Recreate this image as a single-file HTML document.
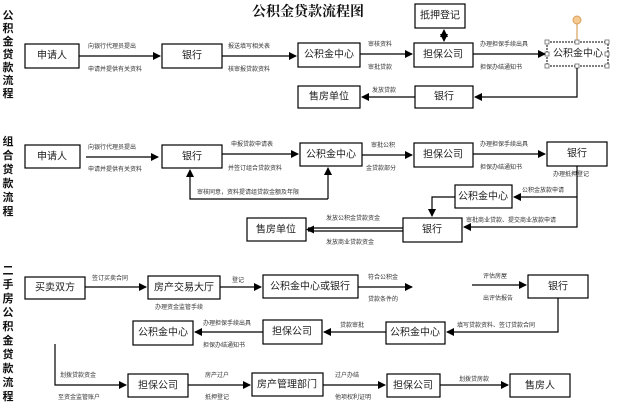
<!DOCTYPE html>
<html><head><meta charset="utf-8"><style>
html,body{margin:0;padding:0;background:#fff;}
svg{display:block;}
text{font-family:"Liberation Sans","Noto Sans CJK SC",sans-serif;fill:#111;}
.b{font-size:10px;text-anchor:middle;dominant-baseline:central;fill:#222;}
.s{font-size:6px;fill:#333;}
.v{font-size:11px;font-weight:bold;text-anchor:middle;}
rect{fill:#fff;stroke:#000;stroke-width:1.2;}
line,polyline{stroke:#000;stroke-width:1.2;fill:none;}
</style></head><body>
<svg width="631" height="409" viewBox="0 0 631 409" xmlns="http://www.w3.org/2000/svg">
<defs>
<marker id="a" markerWidth="8" markerHeight="8" refX="7" refY="4" orient="auto" markerUnits="userSpaceOnUse"><path d="M0,0 L8,4 L0,8 z" fill="#000"/></marker>
<marker id="as" markerWidth="8" markerHeight="8" refX="1" refY="4" orient="auto" markerUnits="userSpaceOnUse"><path d="M8,0 L0,4 L8,8 z" fill="#000"/></marker>
</defs>
<text x="308" y="16" style="font-family:'Liberation Serif','Noto Serif CJK SC',serif;font-size:14px;font-weight:bold;" text-anchor="middle">公积金贷款流程图</text>

<!-- vertical labels -->
<g class="v">
<text x="8" y="19" class="v">公</text><text x="8" y="32" class="v">积</text><text x="8" y="45" class="v">金</text><text x="8" y="58" class="v">贷</text><text x="8" y="71" class="v">款</text><text x="8" y="84" class="v">流</text><text x="8" y="97" class="v">程</text>
<text x="8" y="145" class="v">组</text><text x="8" y="159" class="v">合</text><text x="8" y="173" class="v">贷</text><text x="8" y="187" class="v">款</text><text x="8" y="201" class="v">流</text><text x="8" y="215" class="v">程</text>
<text x="8" y="274" class="v">二</text><text x="8" y="288" class="v">手</text><text x="8" y="302" class="v">房</text><text x="8" y="316" class="v">公</text><text x="8" y="330" class="v">积</text><text x="8" y="344" class="v">金</text><text x="8" y="358" class="v">贷</text><text x="8" y="372" class="v">款</text><text x="8" y="386" class="v">流</text><text x="8" y="400" class="v">程</text>
</g>

<!-- Section 1 -->
<rect x="25" y="44" width="54" height="24"/><text class="b" x="52" y="56">申请人</text>
<rect x="162" y="44" width="60" height="24"/><text class="b" x="192" y="56">银行</text>
<rect x="298" y="43" width="62" height="24"/><text class="b" x="329" y="55">公积金中心</text>
<rect x="414" y="43" width="59" height="24"/><text class="b" x="443" y="55">担保公司</text>
<rect x="415" y="4" width="50" height="24"/><text class="b" x="440" y="16">抵押登记</text>
<rect x="547" y="42" width="61" height="24" style="stroke-dasharray:2,1;stroke-width:1"/><text class="b" x="578" y="54">公积金中心</text>
<g fill="#fff" stroke="#666" stroke-width="0.8">
<rect x="545" y="40" width="4" height="4" style="stroke:#666;stroke-width:.8"/><rect x="575" y="40" width="4" height="4" style="stroke:#666;stroke-width:.8"/><rect x="605" y="40" width="4" height="4" style="stroke:#666;stroke-width:.8"/>
<rect x="545" y="52" width="4" height="4" style="stroke:#666;stroke-width:.8"/><rect x="605" y="52" width="4" height="4" style="stroke:#666;stroke-width:.8"/>
<rect x="545" y="64" width="4" height="4" style="stroke:#666;stroke-width:.8"/><rect x="575" y="64" width="4" height="4" style="stroke:#666;stroke-width:.8"/><rect x="605" y="64" width="4" height="4" style="stroke:#666;stroke-width:.8"/>
</g>
<line x1="577" y1="24" x2="577" y2="40" style="stroke:#d9a060"/>
<circle cx="577" cy="20" r="4" fill="#f5c98f" stroke="#d9a060"/>
<rect x="415" y="86" width="58" height="22"/><text class="b" x="444" y="97">银行</text>
<rect x="298" y="86" width="62" height="22"/><text class="b" x="329" y="97">售房单位</text>

<line x1="79" y1="56" x2="160" y2="56" marker-end="url(#a)"/>
<text class="s" x="88" y="48">向银行代理员提出</text><text class="s" x="88" y="71">申请并提供有关资料</text>
<line x1="222" y1="56" x2="296" y2="56" marker-end="url(#a)"/>
<text class="s" x="228" y="48">报送填写相关表</text><text class="s" x="228" y="71">核审报贷款资料</text>
<line x1="360" y1="54" x2="412" y2="54" marker-end="url(#a)"/>
<text class="s" x="368" y="46">审核资料</text><text class="s" x="368" y="69">审批贷款</text>
<line x1="444" y1="30" x2="444" y2="41" marker-end="url(#a)" marker-start="url(#as)"/>
<line x1="473" y1="54" x2="545" y2="54" marker-end="url(#a)"/>
<text class="s" x="480" y="46">办理担保手续出具</text><text class="s" x="480" y="69">担保办结通知书</text>
<polyline points="577,68 577,97 475,97" marker-end="url(#a)"/>
<line x1="415" y1="97" x2="362" y2="97" marker-end="url(#a)"/>
<text class="s" x="372" y="92">发放贷款</text>

<!-- Section 2 -->
<rect x="25" y="145" width="55" height="23"/><text class="b" x="52" y="157">申请人</text>
<rect x="162" y="145" width="60" height="23"/><text class="b" x="192" y="157">银行</text>
<rect x="300" y="143" width="62" height="23"/><text class="b" x="331" y="155">公积金中心</text>
<rect x="414" y="143" width="59" height="24"/><text class="b" x="443" y="155">担保公司</text>
<rect x="547" y="142" width="60" height="24"/><text class="b" x="577" y="154">银行</text>
<rect x="455" y="185" width="57" height="23"/><text class="b" x="483" y="197">公积金中心</text>
<rect x="403" y="218" width="59" height="24"/><text class="b" x="432" y="230">银行</text>
<rect x="247" y="218" width="59" height="23"/><text class="b" x="276" y="230">售房单位</text>

<line x1="86" y1="157" x2="158" y2="157" marker-end="url(#a)"/>
<text class="s" x="88" y="149">向银行代理员提出</text><text class="s" x="88" y="171">申请并提供有关资料</text>
<line x1="222" y1="154" x2="298" y2="154" marker-end="url(#a)"/>
<text class="s" x="231" y="146">申报贷款申请表</text><text class="s" x="228" y="170">并签订组合贷款资料</text>
<polyline points="328,199 190,199 190,170" marker-end="url(#a)"/>
<line x1="328" y1="199" x2="328" y2="168" marker-end="url(#a)"/>
<text class="s" x="197" y="194">审核同意，资料提请组贷款金额及年限</text>
<line x1="362" y1="155" x2="412" y2="155" marker-end="url(#a)"/>
<text class="s" x="371" y="147">审批公积</text><text class="s" x="366" y="170">金贷款部分</text>
<line x1="473" y1="154" x2="545" y2="154" marker-end="url(#a)"/>
<text class="s" x="480" y="146">办理担保手续出具</text><text class="s" x="480" y="169">担保办结通知书</text>
<text class="s" x="553" y="176">办理抵押登记</text>
<polyline points="577,166 577,227 464,227" marker-end="url(#a)"/>
<line x1="577" y1="197" x2="514" y2="197" marker-end="url(#a)"/>
<text class="s" x="522" y="192">公积金放款申请</text>
<text class="s" x="466" y="222">审批商业贷款、提交商业放款申请</text>
<polyline points="455,197 432,197 432,216" marker-end="url(#a)"/>
<line x1="403" y1="228" x2="308" y2="228"/>
<line x1="403" y1="231" x2="308" y2="231"/>
<path d="M306,229.5 L314,225.5 L314,233.5 z" fill="#000"/>
<text class="s" x="326" y="220">发放公积金贷款资金</text><text class="s" x="326" y="244">发放商业贷款资金</text>

<!-- Section 3 -->
<rect x="25" y="277" width="60" height="22"/><text class="b" x="55" y="288">买卖双方</text>
<rect x="148" y="276" width="72" height="23"/><text class="b" x="184" y="288">房产交易大厅</text>
<rect x="263" y="275" width="95" height="23"/><text class="b" x="310" y="287">公积金中心或银行</text>
<rect x="528" y="275" width="60" height="23"/><text class="b" x="558" y="287">银行</text>
<rect x="386" y="322" width="59" height="22"/><text class="b" x="415" y="333">公积金中心</text>
<rect x="263" y="320" width="59" height="24"/><text class="b" x="292" y="332">担保公司</text>
<rect x="133" y="321" width="60" height="24"/><text class="b" x="163" y="333">公积金中心</text>
<rect x="128" y="374" width="60" height="23"/><text class="b" x="158" y="386">担保公司</text>
<rect x="252" y="373" width="71" height="23"/><text class="b" x="287" y="385">房产管理部门</text>
<rect x="387" y="374" width="53" height="23"/><text class="b" x="413" y="386">担保公司</text>
<rect x="510" y="374" width="60" height="23"/><text class="b" x="540" y="386">售房人</text>

<line x1="85" y1="287" x2="146" y2="287" marker-end="url(#a)"/>
<text class="s" x="92" y="280">签订买卖合同</text>
<text class="s" x="155" y="309">办理资金监管手续</text>
<line x1="220" y1="287" x2="261" y2="287" marker-end="url(#a)"/>
<text class="s" x="232" y="282">登记</text>
<line x1="358" y1="287" x2="412" y2="287" marker-end="url(#a)"/>
<text class="s" x="368" y="279">符合公积金</text><text class="s" x="368" y="301">贷款条件的</text>
<line x1="472" y1="285" x2="526" y2="285" marker-end="url(#a)"/>
<text class="s" x="483" y="278">评估房屋</text><text class="s" x="483" y="300">出评估报告</text>
<polyline points="558,298 558,332 447,332" marker-end="url(#a)"/>
<text class="s" x="457" y="327">填写贷款资料、签订贷款合同</text>
<line x1="386" y1="332" x2="324" y2="332" marker-end="url(#a)"/>
<text class="s" x="340" y="327">贷款审批</text>
<line x1="263" y1="332" x2="195" y2="332" marker-end="url(#a)"/>
<text class="s" x="203" y="325">办理担保手续出具</text><text class="s" x="203" y="347">担保办结通知书</text>
<polyline points="55,344 55,385 126,385" marker-end="url(#a)"/>
<text class="s" x="60" y="377">划拨贷款资金</text><text class="s" x="58" y="399">至资金监管账户</text>
<line x1="188" y1="385" x2="250" y2="385" marker-end="url(#a)"/>
<text class="s" x="205" y="377">房产过户</text><text class="s" x="205" y="399">抵押登记</text>
<line x1="323" y1="385" x2="385" y2="385" marker-end="url(#a)"/>
<text class="s" x="335" y="377">过户办结</text><text class="s" x="335" y="399">他项权利证明</text>
<line x1="440" y1="385" x2="508" y2="385" marker-end="url(#a)"/>
<text class="s" x="459" y="381">划拨贷房款</text>
</svg>
</body></html>
